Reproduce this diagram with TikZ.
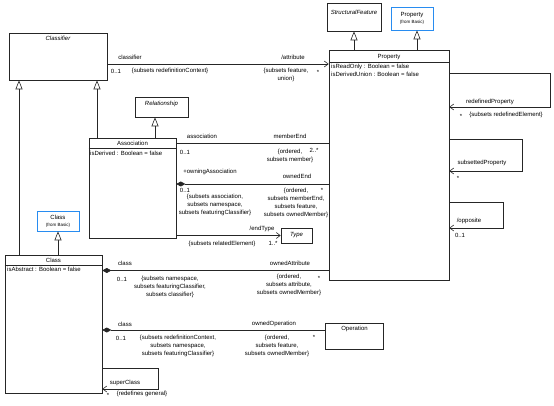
\documentclass[tikz,border=0pt]{standalone}
\usepackage{fontspec}
\setmainfont{Liberation Sans}
\usetikzlibrary{arrows.meta, positioning}
\definecolor{basicblue}{RGB}{40,140,240}
\newcommand{\frombasic}{\fontsize{4.5}{5.5}\selectfont (from Basic)}

\begin{document}
\begin{tikzpicture}[
    x=1pt, y=-1pt,
    font=\fontsize{6}{8}\selectfont,
    box/.style={draw=black!85, line width=0.6pt, inner sep=0pt},
    basicbox/.style={draw=basicblue, line width=0.6pt, inner sep=0pt, align=center},
    lbl/.style={inner sep=0pt, align=center},
    attr/.style={inner sep=0pt, anchor=west},
    rel/.style={black!85, line width=0.6pt},
    nav/.style={rel, -{Straight Barb[length=4pt, width=6pt]}},
    gen/.style={rel, -{Triangle[open, fill=white, length=9pt, width=7pt]}},
    comp/.style={rel, {Diamond[length=9pt, width=5pt]}-}
]
\path[use as bounding box] (0,0) rectangle (554,406);

% classes
\node[box, minimum width=98pt, minimum height=47pt] (classifier) at (58,56.5) {};
\node[lbl, font=\fontsize{6}{8}\selectfont\itshape] (classifierT) at (58,38) {Classifier};

\node[box, minimum width=54pt, minimum height=28pt] (structfeat) at (354,17) {};
\node[lbl, font=\fontsize{6}{8}\selectfont\itshape] (structfeatT) at (354,12) {StructuralFeature};

\node[basicbox, minimum width=42pt, minimum height=23pt] (propbasic) at (412,18.5)
    {Property\\[-1pt]\frombasic};

\node[box, minimum width=120pt, minimum height=230pt] (property) at (389,165) {};
\node[lbl] (propertyT) at (389,57) {Property};
\draw[rel] (property.west |- 0,62) -- (property.east |- 0,62);
\node[attr] (readonly) at (331,66.5) {isReadOnly : Boolean = false};
\node[attr] (derivedunion) at (331,74.5) {isDerivedUnion : Boolean = false};

\node[box, minimum width=53pt, minimum height=20pt] (relationship) at (161.5,107) {};
\node[lbl, font=\fontsize{6}{8}\selectfont\itshape] (relationshipT) at (161.5,104) {Relationship};

\node[box, minimum width=87pt, minimum height=100pt] (association) at (132.5,188) {};
\node[lbl] (associationT) at (132.5,143) {Association};
\draw[rel] (association.west |- 0,148) -- (association.east |- 0,148);
\node[attr] (isderived) at (90,153) {isDerived : Boolean = false};

\node[basicbox, minimum width=42pt, minimum height=20pt] (classbasic) at (58,221)
    {Class\\[-1pt]\frombasic};

\node[box, minimum width=97pt, minimum height=138pt] (class) at (53.5,324) {};
\node[lbl] (classT) at (53.5,260.5) {Class};
\draw[rel] (class.west |- 0,265) -- (class.east |- 0,265);
\node[attr] (isabstract) at (7,269.5) {isAbstract : Boolean = false};

\node[box, minimum width=31pt, minimum height=15pt, font=\fontsize{6}{8}\selectfont\itshape]
    (type) at (296.5,235.5) {Type};

\node[box, minimum width=58pt, minimum height=26pt] (operation) at (354.5,336) {};
\node[lbl] (operationT) at (354.5,328.5) {Operation};

% generalizations
\draw[gen] (structfeat.south |- property.north) -- (structfeat.south);
\draw[gen] (417,0 |- property.north) -- (417,0 |- propbasic.south);
\draw[gen] (155,0 |- association.north) -- (155,0 |- relationship.south);
\draw[gen] (97,0 |- association.north) -- (97,0 |- classifier.south);
\draw[gen] (19,0 |- class.north) -- (19,0 |- classifier.south);
\draw[gen] (classbasic.south |- class.north) -- (classbasic.south);

% classifier -- attribute
\draw[nav] (classifier.east |- 0,64) -- (property.west |- 0,64);
\node[lbl] (l1) at (130,57.5) {classifier};
\node[lbl] (l2) at (116,71) {0..1};
\node[lbl] (l3) at (170,71) {\{subsets redefinitionContext\}};
\node[lbl] (l4) at (293,57.5) {/attribute};
\node[lbl] (l5) at (286,75) {\{subsets feature,\\union\}};
\node[lbl] (l6) at (318,72) {*};

% property self associations
\draw[nav] (property.east |- 0,73) -- (550,73) -- (550,107) -- (property.east |- 0,107);
\node[lbl] (l7) at (490,102) {redefinedProperty};
\node[lbl] (l8) at (461,116) {*};
\node[lbl] (l9) at (506,115) {\{subsets redefinedElement\}};

\draw[nav] (property.east |- 0,139) -- (522,139) -- (522,171) -- (property.east |- 0,171);
\node[lbl] (l10) at (482,163) {subsettedProperty};
\node[lbl] (l11) at (458,178) {*};

\draw[nav] (property.east |- 0,202) -- (503,202) -- (503,228) -- (property.east |- 0,228);
\node[lbl] (l12) at (469,221) {/opposite};
\node[lbl] (l13) at (460,235) {0..1};

% association -- memberEnd, ownedEnd, endType
\draw[rel] (association.east |- 0,143) -- (property.west |- 0,143);
\node[lbl] (l14) at (202,136) {association};
\node[lbl] (l15) at (290,136) {memberEnd};
\node[lbl] (l16) at (185,152) {0..1};
\node[lbl] (l17) at (290,156) {\{ordered,\\subsets member\}};
\node[lbl] (l18) at (314,150.5) {2..*};

\draw[comp] (association.east |- 0,184) -- (property.west |- 0,184);
\node[lbl] (l19) at (210,172) {+owningAssociation};
\node[lbl] (l20) at (297,176) {ownedEnd};
\node[lbl] (l21) at (185,190) {0..1};
\node[lbl] (l22) at (215,205) {\{subsets association,\\subsets namespace,\\subsets featuringClassifier\}};
\node[lbl] (l23) at (296,203) {\{ordered,\\subsets memberEnd,\\subsets feature,\\subsets ownedMember\}};
\node[lbl] (l24) at (322,190) {*};

\draw[nav] (association.east |- type.west) -- (type.west);
\node[lbl] (l25) at (262,228.5) {/endType};
\node[lbl] (l26) at (222,244) {\{subsets relatedElement\}};
\node[lbl] (l27) at (273,243.5) {1..*};

% class -- ownedAttribute, ownedOperation
\draw[comp] (class.east |- 0,270.5) -- (property.west |- 0,270.5);
\node[lbl] (l28) at (125,263) {class};
\node[lbl] (l29) at (290,263) {ownedAttribute};
\node[lbl] (l30) at (122,279) {0..1};
\node[lbl] (l31) at (170,287) {\{subsets namespace,\\subsets featuringClassifier,\\subsets classifier\}};
\node[lbl] (l32) at (289,285) {\{ordered,\\subsets attribute,\\subsets ownedMember\}};
\node[lbl] (l33) at (319,278) {*};

\draw[comp] (class.east |- 0,330) -- (operation.west |- 0,330);
\node[lbl] (l34) at (125,324) {class};
\node[lbl] (l35) at (274,324) {ownedOperation};
\node[lbl] (l36) at (121,338) {0..1};
\node[lbl] (l37) at (178,346) {\{subsets redefinitionContext,\\subsets namespace,\\subsets featuringClassifier\}};
\node[lbl] (l38) at (277,346) {\{ordered,\\subsets feature,\\subsets ownedMember\}};
\node[lbl] (l39) at (314,337) {*};

% class self association
\draw[nav] (class.east |- 0,368) -- (158,368) -- (158,389) -- (class.east |- 0,389);
\node[lbl] (l40) at (125,383) {superClass};
\node[lbl] (l41) at (108,395) {*};
\node[lbl] (l42) at (142,394) {\{redefines general\}};
\end{tikzpicture}
\end{document}
